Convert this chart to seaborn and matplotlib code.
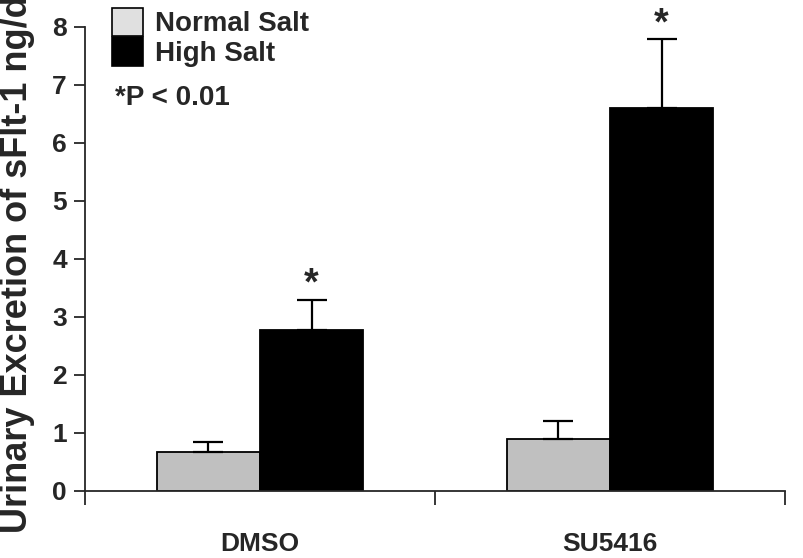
import numpy as np
import pandas as pd
import matplotlib
matplotlib.use("Agg")
import matplotlib.pyplot as plt
from matplotlib.patches import Patch
import seaborn as sns

# values
groups = ["DMSO", "SU5416"]
salt_levels = ["Normal Salt", "High Salt"]
normal_salt = [0.66, 0.89]
normal_err = [0.17, 0.30]
high_salt = [2.77, 6.60]
high_err = [0.52, 1.18]
y_ticks = [0, 1, 2, 3, 4, 5, 6, 7, 8]

df = pd.DataFrame({
    "group": groups * 2,
    "salt": [salt_levels[0]] * 2 + [salt_levels[1]] * 2,
    "value": normal_salt + high_salt,
    "err": normal_err + high_err,
})

sns.set_style("ticks")
plt.rcParams["font.family"] = ["Liberation Sans", "DejaVu Sans"]
plt.rcParams["font.weight"] = "bold"

fig = plt.figure(figsize=(8.04, 5.58), dpi=100)
ax = fig.add_axes([85 / 804, 1 - 490.5 / 558, 700 / 804, 464 / 558])

sns.barplot(data=df, x="group", y="value", hue="salt", order=groups,
            hue_order=salt_levels, palette=["#c0c0c0", "#000000"],
            edgecolor="black", linewidth=1.3, width=0.59, errorbar=None,
            saturation=1, ax=ax, legend=False)

# upward-only error bars, centred on the drawn bars
bars = [p for p in ax.patches]
centers = [b.get_x() + b.get_width() / 2 for b in bars]
tops = [b.get_height() for b in bars]
errs = df["err"].tolist()
ax.errorbar(centers, tops, yerr=[np.zeros(len(errs)), errs], fmt="none",
            ecolor="black", elinewidth=1.6, capsize=11, capthick=1.6, zorder=3)

# significance stars over the high salt bars
for c, t, e in zip(centers[2:], tops[2:], errs[2:]):
    ax.text(c, t + e - 0.05, "*", ha="center", va="bottom", fontsize=27,
            fontweight="bold", clip_on=False)

ax.set_xlim(-0.5, 1.5)
ax.set_ylim(0, 8)
ax.set_yticks(y_ticks)
ax.tick_params(axis="y", labelsize=19, length=8, width=1.3, pad=5)
ax.set_xticks([0, 1])
ax.set_xticklabels(groups, fontsize=19, fontweight="bold")
ax.tick_params(axis="x", length=0, pad=30)
ax.set_xticks([-0.5, 0.5, 1.5], minor=True)
ax.tick_params(axis="x", which="minor", length=10, width=1.3)
ax.set_xlabel("")
ax.set_ylabel("")
sns.despine(ax=ax)
for s in ["left", "bottom"]:
    ax.spines[s].set_linewidth(1.3)

fig.text(0.0, 25 / 558, "Urinary Excretion of sFlt-1 ng/d", rotation=90,
         ha="left", va="bottom", fontsize=26, fontweight="bold")

handles = [Patch(facecolor="#e0e0e0", edgecolor="black", linewidth=1.2),
           Patch(facecolor="#000000", edgecolor="black", linewidth=1.2)]
leg = ax.legend(handles, salt_levels, loc="upper left",
                bbox_to_anchor=(112 / 804, 1 - 8 / 558),
                bbox_transform=fig.transFigure, frameon=False, fontsize=20,
                borderpad=0, borderaxespad=0, handlelength=1.1,
                handleheight=1.18, labelspacing=0.0, handletextpad=0.45)
fig.text(115 / 804, 1 - 98 / 558, "*P < 0.01", ha="left", va="center",
         fontsize=20, fontweight="bold")

fig.savefig("out.png", dpi=100)
